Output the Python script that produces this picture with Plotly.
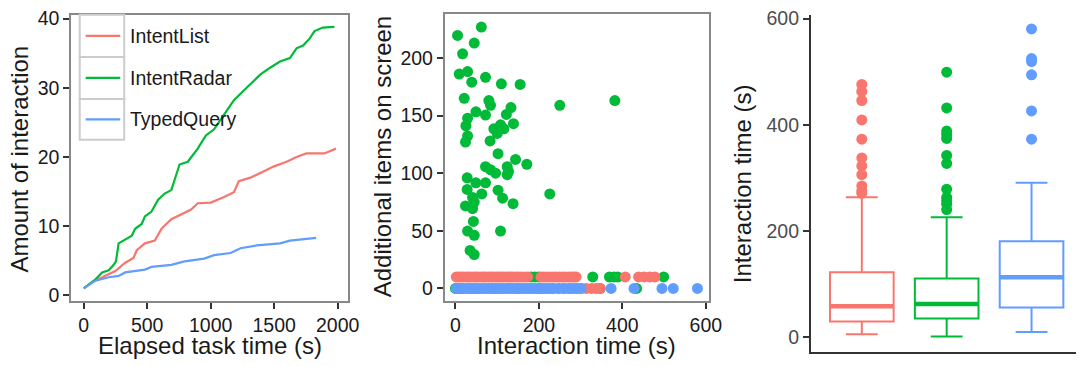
import plotly.graph_objects as go

W, H = 1089, 366
conditions = ["IntentList", "IntentRadar", "TypedQuery"]
colors = ["#F8766D", "#00BA38", "#619CFF"]

# ---- Panel 1: cumulative interactions over elapsed task time ----
list_t = [0, 67, 171, 249, 327, 392, 418, 482, 560, 612, 690, 794, 846, 898, 1001, 1105, 1183, 1222, 1313, 1416, 1494, 1598, 1676, 1754, 1896, 1987]
list_n = [1.0, 1.9, 2.8, 3.5, 4.7, 5.4, 6.5, 7.5, 7.9, 9.6, 11.0, 11.9, 12.4, 13.3, 13.4, 14.2, 14.9, 16.5, 17.0, 17.9, 18.6, 19.3, 20.0, 20.5, 20.5, 21.2]
radar_t = [0, 93, 145, 197, 236, 254, 275, 314, 379, 405, 457, 482, 534, 586, 638, 690, 755, 820, 898, 962, 1027, 1131, 1183, 1261, 1339, 1390, 1468, 1546, 1624, 1676, 1728, 1779, 1818, 1883, 1974]
radar_n = [1.0, 2.3, 3.3, 3.6, 4.4, 4.9, 7.5, 7.9, 8.6, 9.6, 10.3, 11.4, 12.1, 13.8, 14.7, 15.2, 18.9, 19.3, 21.2, 23.1, 24.0, 26.8, 28.2, 29.6, 31.0, 31.9, 32.9, 33.8, 34.3, 35.7, 36.1, 37.1, 38.2, 38.7, 38.8]
typed_t = [0, 93, 197, 275, 327, 482, 534, 690, 794, 949, 1027, 1157, 1235, 1364, 1546, 1624, 1831]
typed_n = [1.0, 2.1, 2.6, 2.8, 3.3, 3.7, 4.1, 4.4, 4.9, 5.3, 5.8, 6.1, 6.8, 7.2, 7.5, 7.9, 8.3]
p1_x_ticks = [0, 500, 1000, 1500, 2000]
p1_y_ticks = [0, 10, 20, 30, 40]

# ---- Panel 2: additional items vs interaction time ----
radar_time_hi = [5, 62, 45, 17, 9, 29, 72, 39, 110, 155, 21, 80, 84, 250, 382, 49, 72, 133, 122, 29, 25, 139, 92, 108, 116, 100, 29, 24, 83, 102, 72, 84, 96, 124, 127, 144, 171, 124, 28, 49, 72, 28, 102, 63, 41, 226, 113, 45, 24, 41, 138, 43, 29, 108, 45, 35, 45]
radar_items_hi = [219.6, 226.8, 212.9, 203.6, 186, 188.2, 183.2, 179, 177.6, 177, 165, 163, 158.9, 158.9, 163, 153.3, 150.5, 157, 151, 147.7, 141.2, 143, 138.5, 142, 138.5, 134.5, 132.3, 127, 128, 117, 105.7, 103, 100, 105.7, 101.5, 112, 107.7, 98.7, 96, 91.7, 91.7, 85.9, 85.3, 82, 79, 82, 78.3, 75, 71.6, 69.4, 73.6, 58.2, 49.8, 49.8, 46.1, 33, 29.4]
radar_time_10 = [181, 190, 199, 329, 369, 380, 389, 499]
radar_time_0 = [0, 3, 6, 11, 347, 434]
list_time_10 = [2, 7, 13, 18, 25, 31, 36, 43, 49, 54, 61, 67, 72, 79, 85, 90, 97, 103, 109, 114, 121, 127, 133, 138, 145, 151, 158, 166, 173, 205, 212, 219, 227, 234, 241, 249, 256, 263, 271, 278, 284, 289, 407, 439, 452, 466, 478]
list_time_0 = [4, 40, 95, 150, 205, 233, 247, 261, 274, 289, 301, 313, 326, 337, 346]
typed_time_0 = [2, 8, 14, 19, 26, 32, 37, 44, 50, 55, 62, 68, 74, 79, 86, 91, 97, 104, 110, 115, 122, 128, 133, 140, 146, 152, 159, 165, 171, 178, 184, 190, 197, 203, 209, 216, 222, 229, 235, 247, 258, 270, 281, 292, 301, 373, 428, 495, 522, 580]
p2_x_ticks = [0, 200, 400, 600]
p2_y_ticks = [0, 50, 100, 150, 200]

# ---- Panel 3: interaction time box plots ----
box_pos = [1, 2, 3]
box_q1 = [29, 34.6, 55.3]
box_med = [57.8, 62, 112.5]
box_q3 = [121.6, 110, 180]
box_lo = [5, 0.5, 9]
box_hi = [263, 225.6, 290.5]
list_out = [476, 462.7, 445.6, 409, 372.6, 337.4, 322.3, 305.8, 284.5, 275.4, 270.5]
radar_out = [499, 431.6, 388, 381.7, 374, 342, 327, 278.5, 263, 257, 250, 240]
typed_out = [580.6, 524.7, 519, 494, 426, 372.6]
p3_y_ticks = [0, 200, 400, 600]

FONT = "Liberation Sans, Arial, sans-serif"
TXT = "#1a1a1a"

fig = go.Figure()

# panel 1 lines
for t, n, c, name in [(list_t, list_n, colors[0], conditions[0]),
                      (radar_t, radar_n, colors[1], conditions[1]),
                      (typed_t, typed_n, colors[2], conditions[2])]:
    fig.add_trace(go.Scatter(x=t, y=n, mode="lines", name=name,
                             line=dict(color=c, width=2.2), showlegend=False,
                             xaxis="x", yaxis="y"))

# panel 2 scatter
radar_time = radar_time_hi + radar_time_10 + radar_time_0
radar_items = radar_items_hi + [10] * len(radar_time_10) + [0] * len(radar_time_0)
list_time = list_time_10 + list_time_0
list_items = [10] * len(list_time_10) + [0] * len(list_time_0)
typed_time = typed_time_0
typed_items = [0] * len(typed_time_0)
for xs, ys, c, name in [(radar_time, radar_items, colors[1], conditions[1]),
                        (list_time, list_items, colors[0], conditions[0]),
                        (typed_time, typed_items, colors[2], conditions[2])]:
    fig.add_trace(go.Scatter(x=xs, y=ys, mode="markers", name=name,
                             marker=dict(color=c, size=11, line=dict(width=0)),
                             showlegend=False, xaxis="x2", yaxis="y2"))

# panel 3 boxes
outs = [list_out, radar_out, typed_out]
bw = 0.75
for i in range(3):
    fig.add_trace(go.Box(x=[box_pos[i]], q1=[box_q1[i]], median=[box_med[i]], q3=[box_q3[i]],
                         lowerfence=[box_lo[i]], upperfence=[box_hi[i]], width=bw,
                         line=dict(color=colors[i], width=2), fillcolor="white",
                         boxpoints=False, showlegend=False, name=conditions[i],
                         xaxis="x3", yaxis="y3"))
    fig.add_trace(go.Scatter(x=[box_pos[i] - bw / 2, box_pos[i] + bw / 2], y=[box_med[i], box_med[i]],
                             mode="lines", line=dict(color=colors[i], width=4.5),
                             showlegend=False, xaxis="x3", yaxis="y3", hoverinfo="skip"))
    fig.add_trace(go.Scatter(x=[box_pos[i]] * len(outs[i]), y=outs[i], mode="markers",
                             marker=dict(color=colors[i], size=11), showlegend=False,
                             xaxis="x3", yaxis="y3"))

def px_x(p):
    return p / W

def px_y(p):
    return 1 - p / H

tick_common = dict(ticks="outside", ticklen=6, tickwidth=1.5, tickcolor="#333333",
                   showgrid=False, zeroline=False,
                   tickfont=dict(family=FONT, size=19.5, color=TXT))
frame = dict(showline=True, mirror=True, linecolor="#888888", linewidth=1.6)

fig.update_layout(
    width=W, height=H, margin=dict(l=0, r=0, t=0, b=0),
    paper_bgcolor="white", plot_bgcolor="white",
    font=dict(family=FONT, color=TXT),
    xaxis=dict(domain=[px_x(72), px_x(352)], range=[-99, 2080], tickvals=p1_x_ticks,
               anchor="y", **tick_common, **frame),
    yaxis=dict(domain=[px_y(304), px_y(8)], range=[-0.84, 40.56], tickvals=p1_y_ticks,
               anchor="x", **tick_common, **frame),
    xaxis2=dict(domain=[px_x(450), px_x(717.7)], range=[-26, 608], tickvals=p2_x_ticks,
                anchor="y2", **tick_common, **frame),
    yaxis2=dict(domain=[px_y(304), px_y(7.3)], range=[-10.9, 238.1], tickvals=p2_y_ticks,
                anchor="x2", **tick_common, **frame),
    xaxis3=dict(domain=[px_x(820.7), 1.0], range=[0.4, 3.524], showticklabels=False,
                ticks="", showgrid=False, zeroline=False, showline=True,
                linecolor="#333333", linewidth=2, anchor="y3"),
    yaxis3=dict(domain=[px_y(356.7), px_y(8)], range=[-28.6, 607.3], tickvals=p3_y_ticks,
                anchor="x3", ticks="outside", ticklen=6, tickwidth=1.5, tickcolor="#333333",
                showgrid=False, zeroline=False, showline=True, linecolor="#333333", linewidth=2,
                tickfont=dict(family=FONT, size=19.5, color="#4d4d4d")),
)

# axis titles
title_font = dict(family=FONT, size=24, color=TXT)
anns = [
    dict(text="Amount of interaction", x=px_x(20), y=px_y(157), textangle=-90),
    dict(text="Elapsed task time (s)", x=px_x(212.5), y=px_y(350), textangle=0),
    dict(text="Additional items on screen", x=px_x(388), y=px_y(155), textangle=-90),
    dict(text="Interaction time (s)", x=px_x(583.7), y=px_y(350), textangle=0),
    dict(text="Interaction time (s)", x=px_x(751.7), y=px_y(182.5), textangle=-90),
]
for a in anns:
    fig.add_annotation(xref="paper", yref="paper", xanchor="center", yanchor="middle",
                       showarrow=False, font=title_font, **a)

# legend (ggplot-style keys inside panel 1)
key_x0, key_x1 = 80.7, 125.7
key_rows = [(8, 51.7), (51.7, 95), (95, 137.3)]
for i, (y0, y1) in enumerate(key_rows):
    fig.add_shape(type="rect", xref="paper", yref="paper",
                  x0=px_x(key_x0), x1=px_x(key_x1), y0=px_y(y1), y1=px_y(y0),
                  line=dict(color="#cccccc", width=2), fillcolor="white", layer="above")
    yc = (y0 + y1) / 2
    fig.add_shape(type="line", xref="paper", yref="paper",
                  x0=px_x(86.7), x1=px_x(121.7), y0=px_y(yc), y1=px_y(yc),
                  line=dict(color=colors[i], width=2.2), layer="above")
    fig.add_annotation(xref="paper", yref="paper", x=px_x(130), y=px_y(yc),
                       xanchor="left", yanchor="middle", showarrow=False,
                       text=conditions[i], font=dict(family=FONT, size=19.5, color=TXT))

fig.write_html("out.html", config={"displayModeBar": False},
               post_script="document.body.style.margin='0';")
